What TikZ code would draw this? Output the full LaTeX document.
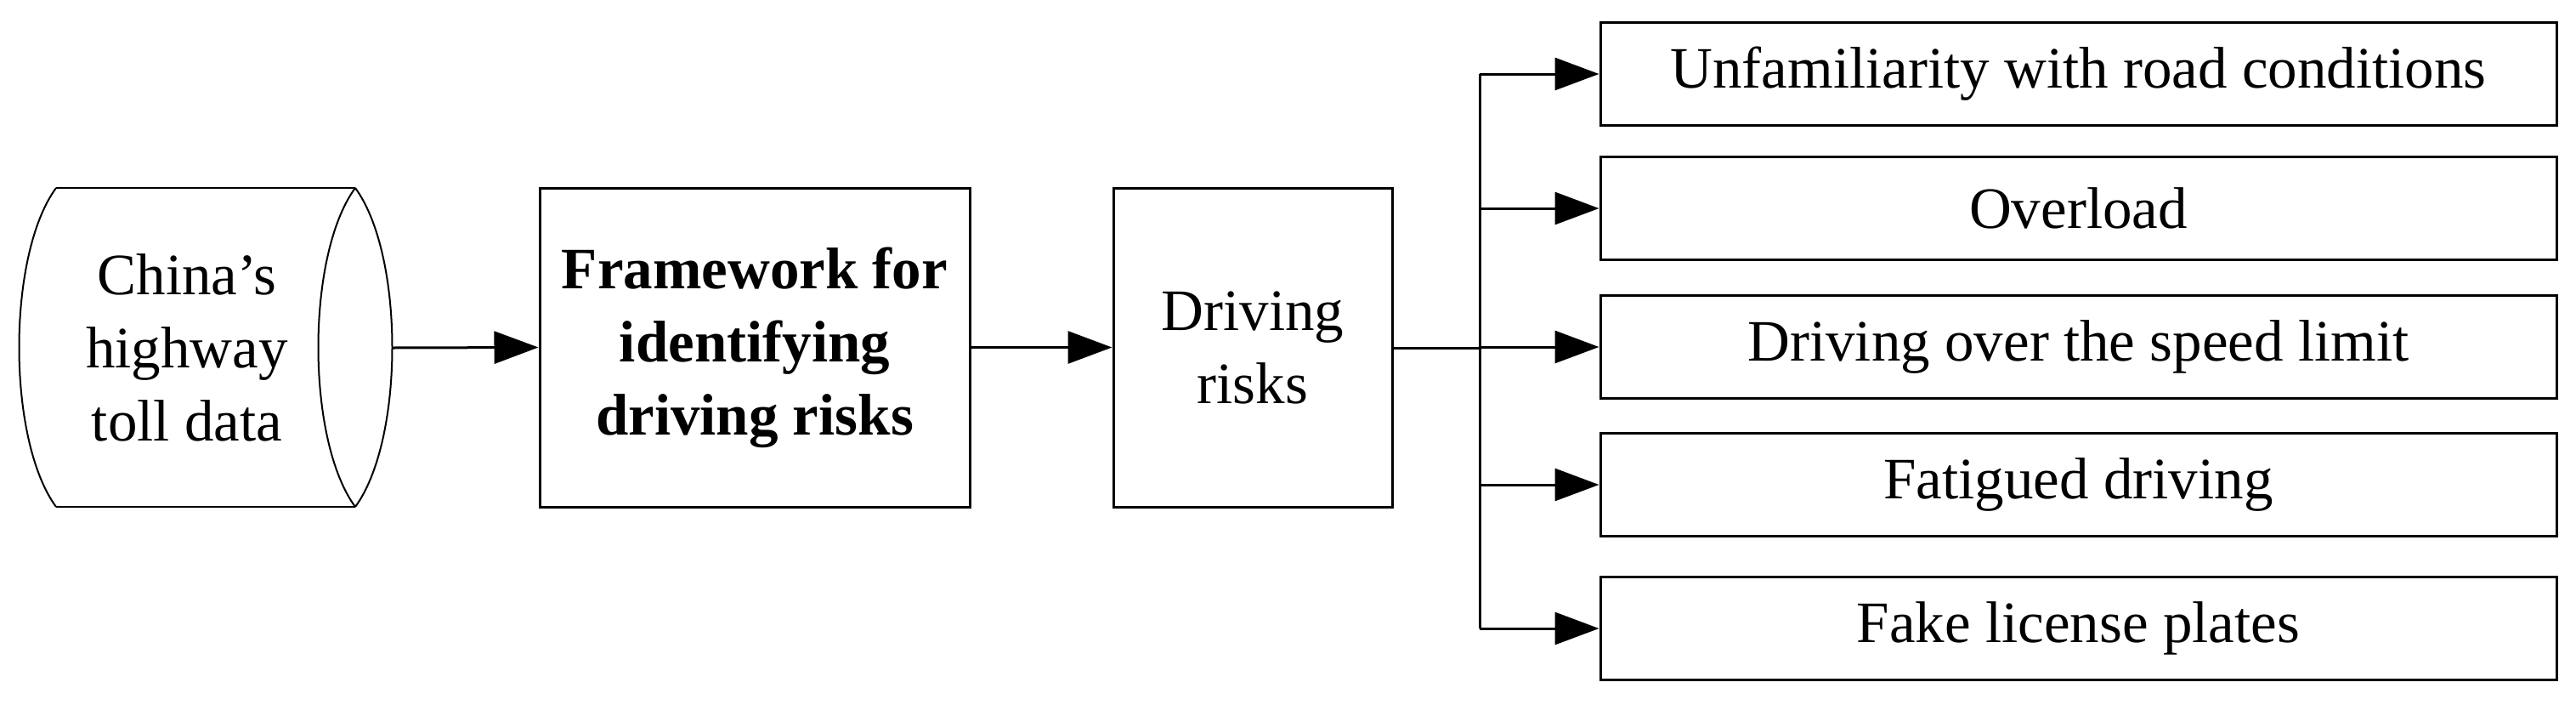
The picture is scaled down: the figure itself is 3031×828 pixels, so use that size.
\documentclass[tikz,border=0pt]{standalone}
\usepackage{fontspec}
\setmainfont{Liberation Serif}
\usetikzlibrary{arrows.meta}
\begin{document}
\begin{tikzpicture}[x=1pt,y=-1pt,
  box/.style={draw,line width=3pt,inner sep=0pt,align=center,font=\fontsize{69}{86}\selectfont},
  conn/.style={line width=3pt,-{Triangle[length=52pt,width=38pt]}},
  line/.style={line width=3pt}]
\useasboundingbox (0,0) rectangle (3031,828);
% cylinder
\node[box,draw=none,minimum width=300,minimum height=375] (src) at (220,408.5) {China’s\\highway\\toll data};
\draw[line width=2pt] (66,221) -- (418,221);
\draw[line width=2pt] (66,596) -- (418,596);
\draw[line width=2pt] (66,221) .. controls (8,300) and (8,517) .. (66,596);
\draw[line width=2pt] (418,221) .. controls (360,300) and (360,517) .. (418,596);
\draw[line width=2pt] (418,221) .. controls (476,300) and (476,517) .. (418,596);
\coordinate (srcE) at (462,409);
\node[box,minimum width=506,minimum height=375,font=\fontsize{69}{86}\selectfont\bfseries] (fw) at (888,408.5) {Framework for\\identifying\\driving risks};
\node[box,minimum width=328,minimum height=375] (dr) at (1474,408.5) {Driving\\risks};
\draw[conn] (srcE) -- (fw.west);
\draw[conn] (fw.east) -- (dr.west);
\foreach \n/\y/\t in {r1/87/Unfamiliarity with road conditions,r2/245/Overload,r3/408/Driving over the speed limit,r4/570/Fatigued driving,r5/739/Fake license plates}{
  \node[box,minimum width=1125,minimum height=121] (\n) at (2445.5,\y) {\t};
  \draw[conn] (1741,\y) -- (\n.west);
}
\coordinate (tt) at (1741,87);
\coordinate (tb) at (1741,739);
\coordinate (tm) at (1741,409);
\draw[line] (tt) -- (tb);
\draw[line] (dr.east |- tm) -- (tm);
\end{tikzpicture}
\end{document}
